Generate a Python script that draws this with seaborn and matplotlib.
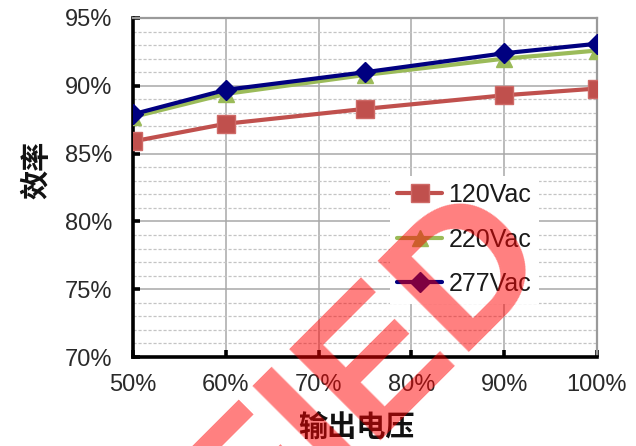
import matplotlib
matplotlib.use("Agg")
import matplotlib.pyplot as plt
from matplotlib.ticker import PercentFormatter, MultipleLocator
import seaborn as sns

# Output load (% of rated) and efficiency (%) per input voltage
load = [50, 60, 75, 90, 100]
eff_120 = [85.9, 87.2, 88.3, 89.3, 89.8]
eff_220 = [87.7, 89.4, 90.8, 92.0, 92.6]
eff_277 = [87.9, 89.7, 91.0, 92.4, 93.1]
series_names = ["120Vac", "220Vac", "277Vac"]

x_ticks = [50, 60, 70, 80, 90, 100]
y_ticks = [70, 75, 80, 85, 90, 95]

sns.set_theme(style="white")
plt.rcParams["font.family"] = ["Liberation Sans", "Noto Sans CJK SC", "DejaVu Sans"]

fig = plt.figure(figsize=(6.36, 4.46), dpi=100)
ax = fig.add_axes([133 / 636, 1 - 357 / 446, 464 / 636, 339 / 446])

styles = [
    dict(color="#C0504D", marker="s", markersize=12.5, markeredgecolor="#CF6A67", markeredgewidth=1.0),
    dict(color="#9BBB59", marker="^", markersize=12, markeredgecolor="#9BBB59", markeredgewidth=1.0),
    dict(color="#000080", marker="D", markersize=10, markeredgecolor="#000080", markeredgewidth=1.0),
]
for vals, name, st in zip([eff_120, eff_220, eff_277], series_names, styles):
    sns.lineplot(x=load, y=vals, ax=ax, label=name, linewidth=3.0, zorder=3, **st)

ax.set_xlim(50, 100)
ax.set_ylim(70, 95)
ax.set_xticks(x_ticks)
ax.set_yticks(y_ticks)
ax.yaxis.set_minor_locator(MultipleLocator(1))
ax.xaxis.set_major_formatter(PercentFormatter(decimals=0))
ax.yaxis.set_major_formatter(PercentFormatter(decimals=0))

ax.grid(which="major", axis="both", color="#a8a8a8", linewidth=1.1, zorder=0)
ax.grid(which="minor", axis="y", color="#c4c4c4", linewidth=0.9, linestyle=(0, (2.5, 1.5)), zorder=0)
ax.set_axisbelow(True)

for side in ("left", "bottom"):
    ax.spines[side].set_color("black")
    ax.spines[side].set_linewidth(2.6)
for side in ("top", "right"):
    ax.spines[side].set_color("#9a9a9a")
    ax.spines[side].set_linewidth(1.6)

ax.tick_params(axis="both", which="major", direction="in", length=5, width=2.6,
               color="black", labelsize=17, labelcolor="#2a2a2a")
ax.tick_params(axis="y", which="major", pad=15)
ax.tick_params(axis="x", which="major", pad=12)
ax.tick_params(which="minor", length=0)
ax.tick_params(axis="both", which="both", left=True, bottom=True, top=False, right=False)

ax.set_xlabel("")
ax.set_ylabel("")
fig.text(356 / 636, 1 - 428 / 446, "输出电压", ha="center", va="center",
         fontsize=21, fontweight="bold", family=["Noto Sans CJK SC"], color="#111111")
fig.text(36 / 636, 1 - 170 / 446, "效率", ha="center", va="center", rotation=90,
         fontsize=21, fontweight="bold", family=["Noto Sans CJK SC"], color="#111111")

leg = ax.legend(loc="upper left", bbox_to_anchor=(0.553, 0.535), borderaxespad=0,
                fontsize=18, frameon=True, facecolor="white", edgecolor="none",
                framealpha=1, fancybox=False, borderpad=0.3, labelspacing=0.82,
                handlelength=1.8, handletextpad=0.25)
for t in leg.get_texts():
    t.set_color("#1a1a1a")

# Diagonal stamp across the plot
fig.text(554 / 636, 1 - 259 / 446, "CERTIFIED", rotation=45, rotation_mode="anchor",
         ha="right", va="baseline", fontsize=135, fontweight="bold",
         family=["Liberation Sans"], color="#ff0000", alpha=0.5, zorder=10)

fig.savefig("out.png", dpi=100)
